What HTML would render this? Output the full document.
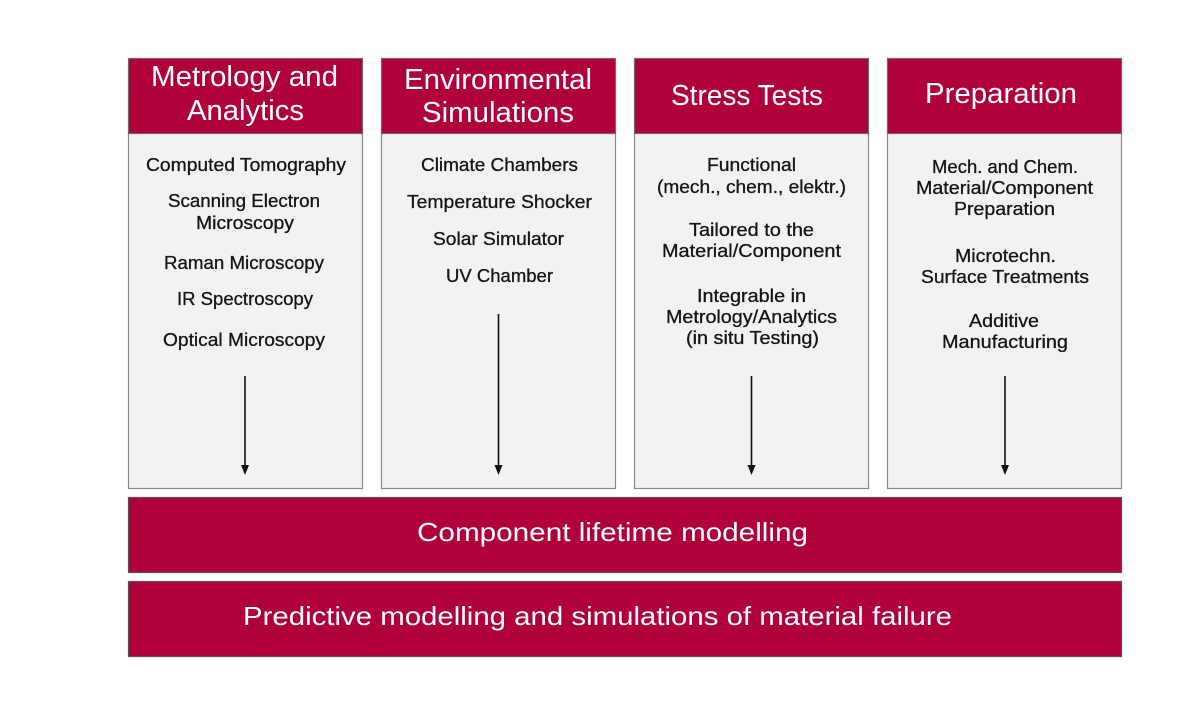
<!DOCTYPE html>
<html>
<head>
<meta charset="utf-8">
<style>
  html, body { margin: 0; padding: 0; background: #ffffff; }
  body { width: 1200px; height: 706px; overflow: hidden; }
  svg { display: block; }
  .h { font-family: "Liberation Sans", sans-serif; font-size: 29px; fill: #ffffff; }
  .b { font-family: "Liberation Sans", sans-serif; font-size: 18px; fill: #151515; stroke: #151515; stroke-width: 0.3px; }
  .bar { font-family: "Liberation Sans", sans-serif; font-size: 26px; fill: #ffffff; }
</style>
</head>
<body>
<svg width="1200" height="706" viewBox="0 0 1200 706" xmlns="http://www.w3.org/2000/svg">
  <!-- column bodies -->
  <g fill="#f2f2f2" stroke="#8a8a8a" stroke-width="1.2">
    <rect x="128.5" y="133" width="234" height="355.5"/>
    <rect x="381.5" y="133" width="234" height="355.5"/>
    <rect x="634.5" y="133" width="234" height="355.5"/>
    <rect x="887.5" y="133" width="234" height="355.5"/>
  </g>
  <!-- headers -->
  <g fill="#b0003a" stroke="#6b6b6b" stroke-width="1.2">
    <rect x="128.5" y="58.5" width="234" height="75"/>
    <rect x="381.5" y="58.5" width="234" height="75"/>
    <rect x="634.5" y="58.5" width="234" height="75"/>
    <rect x="887.5" y="58.5" width="234" height="75"/>
  </g>
  <!-- bottom bars -->
  <g fill="#b0003a" stroke="#555555" stroke-width="1.2">
    <rect x="128.5" y="497.5" width="993" height="75"/>
    <rect x="128.5" y="581.5" width="993" height="75"/>
  </g>

  <!-- header texts -->
  <text class="h" x="151" y="86" textLength="187" lengthAdjust="spacingAndGlyphs">Metrology and</text>
  <text class="h" x="187" y="120" textLength="117" lengthAdjust="spacingAndGlyphs">Analytics</text>
  <text class="h" x="404" y="89" textLength="188" lengthAdjust="spacingAndGlyphs">Environmental</text>
  <text class="h" x="422" y="122" textLength="152" lengthAdjust="spacingAndGlyphs">Simulations</text>
  <text class="h" x="671" y="105" textLength="152" lengthAdjust="spacingAndGlyphs">Stress Tests</text>
  <text class="h" x="925" y="103" textLength="152" lengthAdjust="spacingAndGlyphs">Preparation</text>

  <!-- column 1 -->
  <text class="b" x="146" y="171" textLength="200" lengthAdjust="spacingAndGlyphs">Computed Tomography</text>
  <text class="b" x="168" y="207" textLength="152" lengthAdjust="spacingAndGlyphs">Scanning Electron</text>
  <text class="b" x="196" y="229" textLength="98" lengthAdjust="spacingAndGlyphs">Microscopy</text>
  <text class="b" x="164" y="269" textLength="160" lengthAdjust="spacingAndGlyphs">Raman Microscopy</text>
  <text class="b" x="177" y="305" textLength="136" lengthAdjust="spacingAndGlyphs">IR Spectroscopy</text>
  <text class="b" x="163" y="346" textLength="162" lengthAdjust="spacingAndGlyphs">Optical Microscopy</text>

  <!-- column 2 -->
  <text class="b" x="421" y="171" textLength="157" lengthAdjust="spacingAndGlyphs">Climate Chambers</text>
  <text class="b" x="407" y="208" textLength="185" lengthAdjust="spacingAndGlyphs">Temperature Shocker</text>
  <text class="b" x="433" y="245" textLength="131" lengthAdjust="spacingAndGlyphs">Solar Simulator</text>
  <text class="b" x="446" y="282" textLength="107" lengthAdjust="spacingAndGlyphs">UV Chamber</text>

  <!-- column 3 -->
  <text class="b" x="707" y="171" textLength="89" lengthAdjust="spacingAndGlyphs">Functional</text>
  <text class="b" x="657" y="193" textLength="189" lengthAdjust="spacingAndGlyphs">(mech., chem., elektr.)</text>
  <text class="b" x="689" y="236" textLength="125" lengthAdjust="spacingAndGlyphs">Tailored to the</text>
  <text class="b" x="662" y="257" textLength="179" lengthAdjust="spacingAndGlyphs">Material/Component</text>
  <text class="b" x="697" y="302" textLength="109" lengthAdjust="spacingAndGlyphs">Integrable in</text>
  <text class="b" x="666" y="323" textLength="171" lengthAdjust="spacingAndGlyphs">Metrology/Analytics</text>
  <text class="b" x="686" y="344" textLength="133" lengthAdjust="spacingAndGlyphs">(in situ Testing)</text>

  <!-- column 4 -->
  <text class="b" x="932" y="173" textLength="146" lengthAdjust="spacingAndGlyphs">Mech. and Chem.</text>
  <text class="b" x="916" y="194" textLength="177" lengthAdjust="spacingAndGlyphs">Material/Component</text>
  <text class="b" x="954" y="215" textLength="101" lengthAdjust="spacingAndGlyphs">Preparation</text>
  <text class="b" x="955" y="262" textLength="101" lengthAdjust="spacingAndGlyphs">Microtechn.</text>
  <text class="b" x="921" y="283" textLength="168" lengthAdjust="spacingAndGlyphs">Surface Treatments</text>
  <text class="b" x="969" y="327" textLength="70" lengthAdjust="spacingAndGlyphs">Additive</text>
  <text class="b" x="942" y="348" textLength="126" lengthAdjust="spacingAndGlyphs">Manufacturing</text>

  <!-- arrows -->
  <g stroke="#111111" stroke-width="1.6">
    <line x1="245" y1="376" x2="245" y2="466"/>
    <line x1="498.5" y1="314" x2="498.5" y2="466"/>
    <line x1="751.5" y1="376" x2="751.5" y2="466"/>
    <line x1="1005" y1="376" x2="1005" y2="466"/>
  </g>
  <g fill="#111111">
    <polygon points="241,465 249,465 245,475"/>
    <polygon points="494.5,465 502.5,465 498.5,475"/>
    <polygon points="747.5,465 755.5,465 751.5,475"/>
    <polygon points="1001,465 1009,465 1005,475"/>
  </g>

  <!-- bar texts -->
  <text class="bar" x="417" y="541" textLength="391" lengthAdjust="spacingAndGlyphs">Component lifetime modelling</text>
  <text class="bar" x="243" y="625" textLength="709" lengthAdjust="spacingAndGlyphs">Predictive modelling and simulations of material failure</text>
</svg>
</body>
</html>
